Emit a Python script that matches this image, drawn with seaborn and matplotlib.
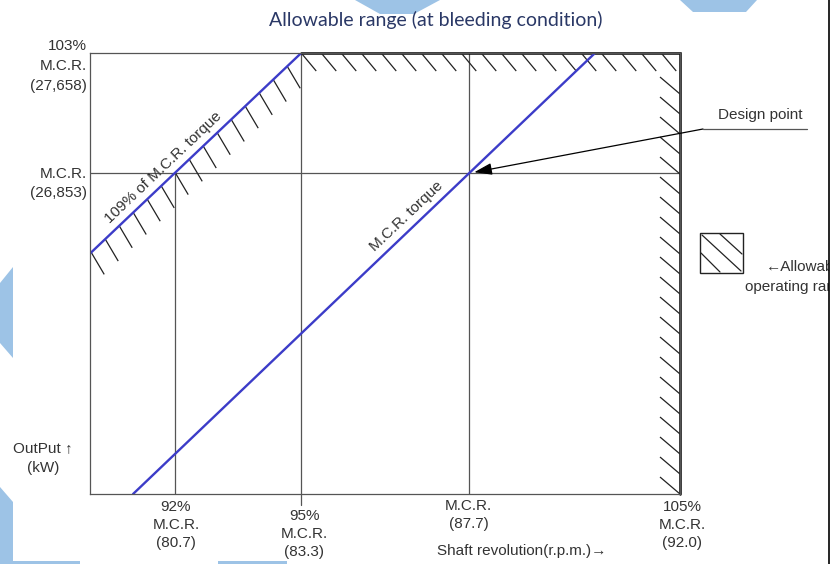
import numpy as np
import matplotlib.pyplot as plt
import seaborn as sns
from matplotlib.collections import LineCollection
from matplotlib.lines import Line2D
from matplotlib.patches import Polygon, Rectangle

# Schematic diagram values
# y axis: output in % of M.C.R. ; x axis: schematic speed position (0 = left edge, 100 = right edge)
output_pct = [100, 103]
output_labels = ["M.C.R.\n(26,853)", "103%\nM.C.R.\n(27,658)"]

speed_pos = [14.4, 35.8, 64.2, 100.0]
speed_labels = ["92%\nM.C.R.\n(80.7)", "95%\nM.C.R.\n(83.3)", "M.C.R.\n(87.7)", "105%\nM.C.R.\n(92.0)"]

mcr_torque_x = [7.3, 85.6]
mcr_torque_y = [92.0, 103.0]
torque109_x = [-8.0, 35.8]
torque109_y = [96.88, 103.0]

design_point = (64.2, 100.0)

W, H = 831, 564
FONT = ["Liberation Sans", "DejaVu Sans"]
TXT = "#333333"
BLUE = "#3c3cc8"
GRAY = "#555555"
FS = 11

sns.set_theme(style="white")
plt.rcParams["font.family"] = FONT


def px(x, y):
    # figure pixel (top-left origin) -> figure fraction
    return (x / W, 1 - y / H)


fig = plt.figure(figsize=(W / 100, H / 100), dpi=100)
ax = fig.add_axes([90 / W, 1 - 494 / H, 590 / W, 441 / H])
ax.set_xlim(0, 100)
ax.set_ylim(92, 103)
ax.set_xticks([])
ax.set_yticks([])
for s in ax.spines.values():
    s.set_color(GRAY)
    s.set_linewidth(0.9)

# pixels per data unit (for the hatch strokes and label angles)
sx = 590 / 100
sy = 441 / 11

# reference lines
ax.plot([speed_pos[0]] * 2, [92, output_pct[0]], color=GRAY, lw=0.9)
ax.plot([speed_pos[1]] * 2, [91.72, 103], color=GRAY, lw=0.9, clip_on=False)
ax.plot([speed_pos[2]] * 2, [92, 103], color=GRAY, lw=0.9)
ax.axhline(output_pct[0], color=GRAY, lw=0.9)

# limit boundary (top and right)
ax.plot([speed_pos[1], 100, 100], [103, 103, 92], color="black", lw=1.8, clip_on=False,
        solid_joinstyle="miter")


# hatch strokes
def strokes(starts, d):
    return [[(x, y), (x + d[0] / sx, y - d[1] / sy)] for x, y in starts]


segs = []
top_x = np.arange(speed_pos[1], 97.5, 20 / sx)
segs += strokes([(x, 103) for x in top_x], (15, 18))
right_y = 92 + np.arange(0, 21) * 20 / sy
segs += strokes([(100 - 20 / sx, y + 17 / sy) for y in right_y], (20, 17))
slope = (torque109_y[1] - torque109_y[0]) / (torque109_x[1] - torque109_x[0])
diag_x = speed_pos[1] - np.arange(1, 20) * 14 / sx
segs += strokes([(x, torque109_y[1] + slope * (x - speed_pos[1])) for x in diag_x], (13, 22))
ax.add_collection(LineCollection(segs, colors="#222222", linewidths=0.9))

# torque lines
sns.lineplot(x=mcr_torque_x, y=mcr_torque_y, ax=ax, color=BLUE, lw=1.7)
sns.lineplot(x=torque109_x, y=torque109_y, ax=ax, color=BLUE, lw=1.7)

# rotated labels along the torque lines
ang = np.arctan(slope * sy / sx)
off = (-np.sin(ang) * 5 * 0.72, np.cos(ang) * 5 * 0.72)
for lab, pt in [("109% of M.C.R. torque", (speed_pos[0] - 0.6, 100 - 0.6 * slope)),
                ("M.C.R. torque", (55.0, 98.71))]:
    ax.annotate(lab, xy=pt, xytext=off, textcoords="offset points", rotation=np.degrees(ang),
                rotation_mode="anchor", ha="center", va="bottom", fontsize=FS, color=TXT)

# y side labels
ax.annotate(output_labels[1], xy=(0, output_pct[1]), xytext=(-2, -9.4), textcoords="offset points",
            ha="right", va="center", multialignment="right", fontsize=FS, color=TXT,
            linespacing=1.55)
ax.annotate(output_labels[0], xy=(0, output_pct[0]), xytext=(-2, -7.2), textcoords="offset points",
            ha="right", va="center", multialignment="right", fontsize=FS, color=TXT,
            linespacing=1.5)

# x side labels
x_offsets = [6, 15, 5, 6]
x_shift = [1, 3, 0, 2]
for xp, lab, off_y, dx in zip(speed_pos, speed_labels, x_offsets, x_shift):
    ax.annotate(lab, xy=(xp, 92), xytext=(dx * 0.72, -off_y * 0.72), textcoords="offset points",
                ha="center", va="top", multialignment="center", fontsize=FS, color=TXT,
                linespacing=1.35, annotation_clip=False)

fig.text(*px(437, 551), "Shaft revolution(r.p.m.)→", ha="left", va="center", fontsize=FS, color=TXT)
fig.text(*px(43, 458), "OutPut ↑\n(kW)", ha="center", va="center", multialignment="center",
         fontsize=FS, color=TXT, linespacing=1.5)

# title
fig.text(*px(436, 20), "Allowable range (at bleeding condition)", ha="center", va="center",
         fontsize=14, color="#2a3866", family=["Lato", "DejaVu Sans"])

# design point annotation
fig.text(*px(718, 115), "Design point", ha="left", va="center", fontsize=FS, color=TXT)
fig.add_artist(Line2D([px(703, 0)[0], px(807, 0)[0]], [px(0, 129)[1]] * 2,
                      transform=fig.transFigure, color=GRAY, lw=0.9))
ax.annotate("", xy=design_point, xytext=(703, H - 129), textcoords="figure pixels",
            arrowprops=dict(arrowstyle="-|>,head_length=0.9,head_width=0.3", color="black",
                            lw=0.9, shrinkA=0, shrinkB=4), annotation_clip=False)

# legend box
x0, y0 = px(700, 273)
x1, y1 = px(743, 233)
fig.add_artist(Rectangle((x0, y0), x1 - x0, y1 - y0, transform=fig.transFigure,
                         fill=False, edgecolor="#222222", lw=1.0))
for a, b in [((702, 235), (741, 271)), ((720, 234), (742, 254)), ((701, 253), (720, 272))]:
    fig.add_artist(Line2D([px(*a)[0], px(*b)[0]], [px(*a)[1], px(*b)[1]],
                          transform=fig.transFigure, color="#222222", lw=0.9))
fig.text(*px(766, 267), "←Allowable", ha="left", va="center", fontsize=FS, color=TXT)
fig.text(*px(745, 287), "operating range", ha="left", va="center", fontsize=FS, color=TXT)

# slide background decorations and right border
shapes = [
    [(355, 0), (440, 0), (414, 14), (380, 14)],
    [(680, 0), (757, 0), (746, 12), (693, 12)],
    [(0, 283), (13, 267), (13, 358), (0, 343)],
    [(0, 487), (13, 502), (13, 561), (80, 561), (80, 564), (0, 564)],
    [(218, 561), (287, 561), (287, 564), (218, 564)],
]
for pts in shapes:
    fig.add_artist(Polygon([px(*p) for p in pts], closed=True, transform=fig.transFigure,
                           facecolor="#9dc3e6", edgecolor="none", zorder=0))
xw, _ = px(829, 0)
fig.add_artist(Rectangle((xw, 0), 1 - xw, 1, transform=fig.transFigure,
                         facecolor="white", edgecolor="none", zorder=10))
fig.add_artist(Line2D([xw, xw], [0, 1], transform=fig.transFigure, color="black", lw=1.2, zorder=11))

plt.savefig("out.png", dpi=100)
